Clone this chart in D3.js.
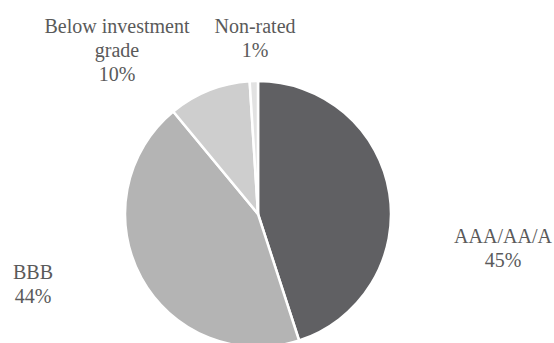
<!DOCTYPE html>
<html>
<head>
<meta charset="utf-8">
<script src="https://cdn.jsdelivr.net/npm/d3@7"></script>
<style>
  html, body { margin: 0; padding: 0; background: #fff; }
  svg { display: block; }
</style>
</head>
<body>
<svg id="chart" width="554" height="343"></svg>
<script>
// Credit rating breakdown (share of holdings, %)
const categories = ["AAA/AA/A", "BBB", "Below investment grade", "Non-rated"];
const shares = [45, 44, 10, 1];
const sliceColors = ["#606063", "#b4b4b4", "#cecece", "#e2e2e2"];
// label lines as printed beside each slice
const labelLines = [
  ["AAA/AA/A", "45%"],
  ["BBB", "44%"],
  ["Below investment", "grade", "10%"],
  ["Non-rated", "1%"]
];
// label anchor points (centre x, first baseline y)
const labelAnchors = [[503, 243], [33, 279], [117, 33], [255, 33]];

const svg = d3.select("#chart");
const cx = 258, cy = 214, radius = 133;

const data = categories.map((c, i) => ({ name: c, value: shares[i] }));

const pie = d3.pie().value(d => d.value).sort(null);
const arc = d3.arc().innerRadius(0).outerRadius(radius);
const color = d3.scaleOrdinal().domain(categories).range(sliceColors);

const g = svg.append("g").attr("transform", `translate(${cx},${cy})`);
g.selectAll("path")
  .data(pie(data))
  .join("path")
  .attr("d", arc)
  .attr("fill", d => color(d.data.name))
  .attr("stroke", "#ffffff")
  .attr("stroke-width", 2.5)
  .attr("stroke-linejoin", "round");

const lineHeight = 24;
const labels = svg.append("g")
  .attr("font-family", "Liberation Serif")
  .attr("font-size", 20)
  .attr("fill", "#5a5a5a");
data.forEach((d, i) => {
  const [x, y] = labelAnchors[i];
  const t = labels.append("text")
    .attr("text-anchor", "middle")
    .attr("x", x)
    .attr("y", y);
  labelLines[i].forEach((line, j) => {
    t.append("tspan")
      .attr("x", x)
      .attr("dy", j === 0 ? 0 : lineHeight)
      .text(line);
  });
});
</script>
</body>
</html>
